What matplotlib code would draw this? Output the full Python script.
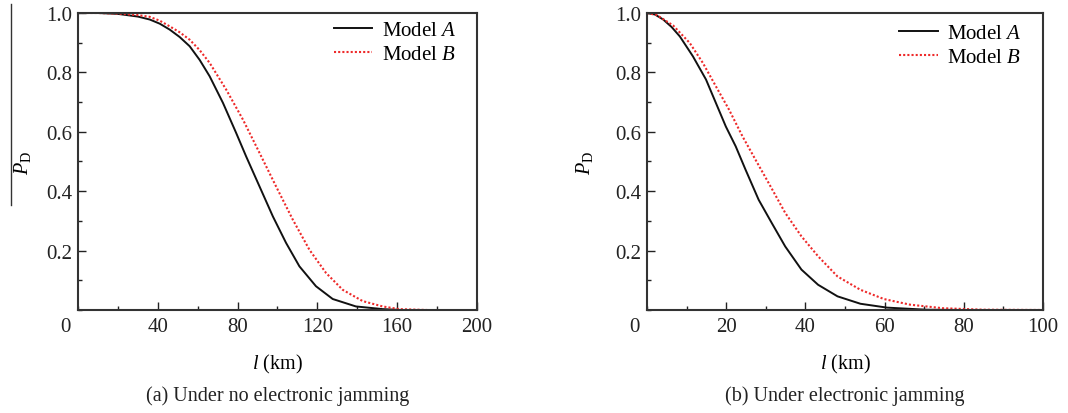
import matplotlib
matplotlib.use('Agg')
import matplotlib.pyplot as plt
from matplotlib.lines import Line2D
from matplotlib.ticker import MultipleLocator

plt.rcParams['font.family'] = ['Liberation Serif', 'DejaVu Serif']
plt.rcParams['mathtext.fontset'] = 'custom'
plt.rcParams['mathtext.rm'] = 'Liberation Serif'
plt.rcParams['mathtext.it'] = 'Liberation Serif:italic'

# (a) no jamming
xa_A = [0, 10, 20, 30, 36, 41, 46, 51, 56, 61, 66, 72.7, 79.3, 84.3, 91, 97.7,
        104.3, 111, 119.3, 127.7, 139.3, 152.7, 162]
ya_A = [1.0, 1.0, 0.997, 0.988, 0.978, 0.964, 0.944, 0.919, 0.888, 0.842, 0.787,
        0.697, 0.596, 0.517, 0.416, 0.315, 0.226, 0.147, 0.08, 0.037, 0.012,
        0.003, 0.0]
xa_B = [0, 10, 20, 30, 36, 41, 46, 51, 56, 61, 66, 74.3, 82.7, 91, 99.3, 107.7,
        116, 124.3, 132.7, 142.7, 152.7, 161, 175]
ya_B = [1.0, 1.0, 0.998, 0.993, 0.987, 0.974, 0.955, 0.935, 0.91, 0.875, 0.832,
        0.742, 0.641, 0.529, 0.416, 0.304, 0.203, 0.125, 0.068, 0.03, 0.012,
        0.003, 0.0]

# (b) jamming
xb_A = [0, 2, 4.1, 6.2, 8.3, 11.6, 14.9, 17.4, 19.9, 22.4, 24.9, 28.2, 31.5, 34.9,
        39, 43.2, 48.1, 53.9, 60.6, 70.5, 80]
yb_A = [1.0, 0.995, 0.978, 0.953, 0.921, 0.854, 0.776, 0.697, 0.618, 0.551, 0.472,
        0.371, 0.293, 0.214, 0.136, 0.085, 0.046, 0.021, 0.008, 0.001, 0.0]
xb_B = [0, 2.5, 6.6, 10.8, 14.1, 17.4, 20.7, 24.1, 27.4, 30.7, 34.9, 39, 43.2,
        48.1, 53.9, 59.8, 66.4, 74.7, 85, 100]
yb_B = [1.0, 0.993, 0.958, 0.899, 0.832, 0.753, 0.675, 0.585, 0.506, 0.428, 0.327,
        0.248, 0.181, 0.113, 0.068, 0.037, 0.018, 0.006, 0.001, 0.0]

yticks = [0.2, 0.4, 0.6, 0.8, 1.0]
xticks_a = [40, 80, 120, 160, 200]
xticks_b = [20, 40, 60, 80, 100]
captions = ['(a) Under no electronic jamming', '(b) Under electronic jamming']

fig = plt.figure(figsize=(10.68, 4.14), dpi=100)
ax1 = fig.add_axes([0.0730, 0.2488, 0.3736, 0.7174])
ax2 = fig.add_axes([0.6058, 0.2488, 0.3708, 0.7174])

panels = [(ax1, xa_A, ya_A, xa_B, ya_B, 200, xticks_a, 20, captions[0], -0.113,
           (0.987, 1.027)),
          (ax2, xb_A, yb_A, xb_B, yb_B, 100, xticks_b, 10, captions[1], -0.131,
           (0.985, 1.017))]

for ax, xA, yA, xB, yB, xmax, xt, xminor, cap, ylab_x, leg_anchor in panels:
    ax.plot(xA, yA, color='#111111', lw=1.4, label='Model $A$')
    ax.plot(xB, yB, color='#ee2a2a', lw=1.5, ls=(0, (1, 1)), label='Model $B$')
    ax.set_xlim(0, xmax)
    ax.set_ylim(0, 1.0)
    ax.set_xticks(xt)
    ax.set_yticks(yticks)
    ax.set_yticklabels(['%.1f' % v for v in yticks])
    ax.xaxis.set_minor_locator(MultipleLocator(xminor))
    ax.yaxis.set_minor_locator(MultipleLocator(0.1))
    ax.tick_params(which='both', direction='in', top=False, right=False,
                   labelsize=15, colors='#222222')
    ax.tick_params(axis='x', pad=5)
    ax.tick_params(axis='y', pad=4)
    ax.tick_params(which='major', length=6, width=1)
    ax.tick_params(which='minor', length=3, width=1)
    for s in ax.spines.values():
        s.set_linewidth(1.5)
        s.set_color('#333333')
    ax.text(-0.032, -0.024, '0', transform=ax.transAxes, ha='center', va='top',
            fontsize=15, color='#222222')
    ax.set_xlabel('$l$ (km)', fontsize=14.5)
    ax.xaxis.set_label_coords(0.5, -0.142)
    ax.set_ylabel('$P_{\\mathrm{D}}$', fontsize=14.5)
    ax.yaxis.set_label_coords(ylab_x, 0.5)
    ax.text(0.5, -0.252, cap, transform=ax.transAxes, ha='center', va='top',
            fontsize=14.5, color='#222222')
    ax.legend(loc='upper right', bbox_to_anchor=leg_anchor, frameon=False,
              fontsize=15, handlelength=1.85, handletextpad=0.45,
              labelspacing=0.2, borderaxespad=0.35)

fig.add_artist(Line2D([0.0103, 0.0103], [0.988, 0.502], transform=fig.transFigure,
                      color='#333333', lw=1))

fig.savefig('out.png', dpi=100)
